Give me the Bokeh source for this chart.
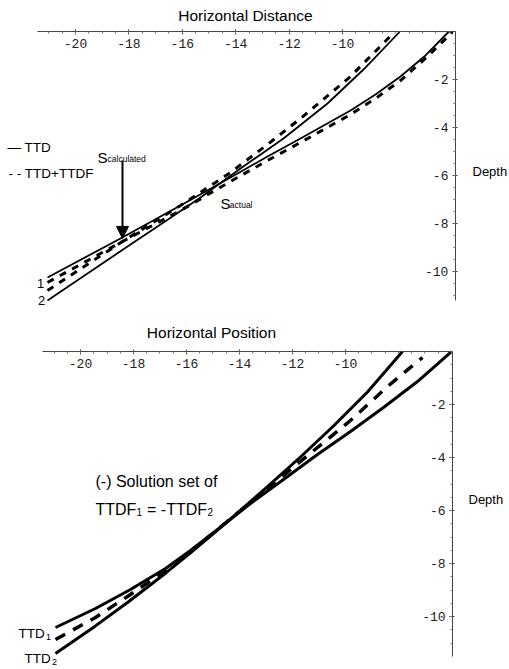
from bokeh.plotting import figure
from bokeh.models import LinearAxis, FixedTicker, Range1d, Arrow, NormalHead, CustomJSTickFormatter
from bokeh.layouts import column
from bokeh.embed import file_html
from bokeh.resources import INLINE
from bokeh.core.properties import value

# ---------------- data: top panel (Horizontal Distance) ----------------
ttd1_x = [-21.049, -18.315, -16.067, -14.195, -12.809, -11.573, -9.700, -8.764, -7.828, -6.891, -6.030]
ttd1_y = [-10.229, -8.604, -7.229, -6.063, -5.188, -4.438, -3.271, -2.604, -1.854, -0.979, 0.0]
ttd2_x = [-21.049, -17.940, -16.704, -15.318, -13.820, -12.210, -10.562, -9.213, -7.865]
ttd2_y = [-11.188, -8.854, -7.938, -6.896, -5.688, -4.438, -2.979, -1.563, 0.0]
ttdf1_x = [-21.049, -18.240, -16.067, -14.195, -12.809, -11.573, -9.700, -8.764, -7.828, -6.854, -5.880]
ttdf1_y = [-10.438, -8.729, -7.438, -6.229, -5.354, -4.604, -3.438, -2.771, -2.021, -1.0625, 0.0]
ttdf2_x = [-21.049, -18.240, -16.067, -14.195, -12.809, -11.573, -9.700, -8.052]
ttdf2_y = [-10.771, -8.729, -7.229, -5.854, -4.688, -3.604, -1.854, 0.0]

# ---------------- data: bottom panel (Horizontal Position) ----------------
pos1_x = [-20.943, -19.434, -18.113, -16.792, -15.849, -15.019, -13.585, -12.340, -11.057,
          -9.811, -8.566, -7.283, -6.000]
pos1_y = [-10.415, -9.698, -8.981, -8.189, -7.509, -6.868, -5.736, -4.830, -3.887,
          -3.019, -2.113, -1.132, 0.0]
pos2_x = [-20.943, -19.434, -18.189, -16.792, -15.849, -15.019, -14.226, -12.943, -11.698,
          -10.453, -9.170, -7.849]
pos2_y = [-11.396, -10.355, -9.445, -8.366, -7.596, -6.902, -6.223, -5.098, -3.981,
          -2.811, -1.528, 0.0]
posm_x = [-20.943, -19.434, -18.113, -16.792, -15.849, -15.019, -13.585, -12.340, -11.057,
          -9.811, -8.415, -7.094]
posm_y = [-10.868, -10.038, -9.170, -8.264, -7.547, -6.868, -5.698, -4.679, -3.623,
          -2.604, -1.321, -0.226]

# ---------------- ticks ----------------
x_ticks = [-20, -18, -16, -14, -12, -10]
x_minor = [v / 2 for v in range(-42, -11)]
y_ticks = [-10, -8, -6, -4, -2]
y_minor = [v / 2 for v in range(-22, 0)]

SANS = value("Liberation Sans")
MONO = "Liberation Mono"


def base_fig(xr, yr, h):
    p = figure(width=509, height=h, x_range=Range1d(*xr), y_range=Range1d(*yr),
               x_axis_type=None, y_axis_type=None, output_backend="svg",
               toolbar_location=None, min_border=0)
    p.grid.visible = False
    p.outline_line_color = None
    p.background_fill_color = "white"
    p.border_fill_color = "white"
    return p


def add_axes(p, xbounds, ybounds):
    fmt = CustomJSTickFormatter(code="return String(Math.round(tick));")
    xa = LinearAxis(fixed_location=0, bounds=xbounds,
                    ticker=FixedTicker(ticks=x_ticks, minor_ticks=x_minor), formatter=fmt)
    ya = LinearAxis(fixed_location=xbounds[1], bounds=ybounds,
                    ticker=FixedTicker(ticks=y_ticks, minor_ticks=y_minor), formatter=fmt)
    for a in (xa, ya):
        a.axis_line_color = "#444444"
        a.axis_line_width = 1
        a.major_tick_line_color = "#444444"
        a.minor_tick_line_color = "#777777"
        a.major_tick_in = 2
        a.major_tick_out = 3
        a.minor_tick_in = 0
        a.minor_tick_out = 2
        a.major_label_text_font = MONO
        a.major_label_text_font_size = "13px"
        a.major_label_text_color = "#222222"
        a.major_label_standoff = 4
    p.add_layout(xa, "below")
    p.add_layout(ya, "left")


# ================= TOP =================
top = base_fig((-22.809, -3.745), (-12.021, 1.3125), 320)
add_axes(top, (-21.42, -5.77), (-11.2, 0.0))

top.line(ttd1_x, ttd1_y, line_color="black", line_width=1.8)
top.line(ttd2_x, ttd2_y, line_color="black", line_width=1.8)
top.line(ttdf1_x, ttdf1_y, line_color="black", line_width=3, line_dash="7 7")
top.line(ttdf2_x, ttdf2_y, line_color="black", line_width=3, line_dash="7 7")

top.add_layout(Arrow(end=NormalHead(size=12, fill_color="black", line_color="black"),
                     x_start=-18.24, y_start=-5.354, x_end=-18.24, y_end=-8.60,
                     line_width=2, line_color="black"))

top.text(x=[-13.633], y=[0.6875], text=["Horizontal Distance"], text_font=SANS,
         text_font_size=value("15.5px"), text_align="center", text_baseline="middle")
top.text(x=[-22.547, -22.509], y=[-4.8125, -5.896], text=["\u2014 TTD", "- - TTD+TTDF"],
         text_font=SANS, text_font_size=value("13.5px"), text_align="left", text_baseline="middle")
top.text(x=[-19.176, -14.569], y=[-5.229, -7.146], text=["S", "S"], text_font=SANS,
         text_font_size=value("15px"), text_align="left", text_baseline="alphabetic")
top.text(x=[-18.80, -14.22], y=[-5.3125, -7.229], text=["calculated", "actual"], text_font=SANS,
         text_font_size=value("8.5px"), text_align="left", text_baseline="alphabetic")
top.text(x=[-21.311, -21.273], y=[-10.479, -11.188], text=["1", "2"], text_font=SANS,
         text_font_size=value("13px"), text_align="center", text_baseline="middle")
top.text(x=[-5.131], y=[-5.8125], text=["Depth"], text_font=SANS,
         text_font_size=value("13px"), text_align="left", text_baseline="middle")

# ================= BOTTOM =================
bot = base_fig((-23.019, -3.811), (-12.0, 1.170), 349)
add_axes(bot, (-21.43, -5.96), (-11.51, 0.0))

bot.line(pos1_x, pos1_y, line_color="black", line_width=3)
bot.line(pos2_x, pos2_y, line_color="black", line_width=3)
bot.line(posm_x, posm_y, line_color="black", line_width=3.5, line_dash="11 9")

bot.text(x=[-15.057], y=[0.717], text=["Horizontal Position"], text_font=SANS,
         text_font_size=value("15.5px"), text_align="center", text_baseline="middle")
bot.text(x=[-19.434], y=[-4.906], text=["(-) Solution set of"], text_font=SANS,
         text_font_size=value("16px"), text_align="left", text_baseline="middle")
bot.text(x=[-19.434, -17.490], y=[-5.962, -5.962], text=["TTDF", "= -TTDF"], text_font=SANS,
         text_font_size=value("16px"), text_align="left", text_baseline="alphabetic")
bot.text(x=[-17.887, -15.208], y=[-6.075, -6.075], text=["1", "2"], text_font=SANS,
         text_font_size=value("10px"), text_align="left", text_baseline="alphabetic")
bot.text(x=[-22.34, -22.113], y=[-10.642, -11.585], text=["TTD", "TTD"], text_font=SANS,
         text_font_size=value("13.5px"), text_align="left", text_baseline="alphabetic")
bot.text(x=[-21.302, -21.075], y=[-10.755, -11.70], text=["1", "2"], text_font=SANS,
         text_font_size=value("9px"), text_align="left", text_baseline="alphabetic")
bot.text(x=[-5.358], y=[-5.585], text=["Depth"], text_font=SANS,
         text_font_size=value("13px"), text_align="left", text_baseline="middle")

layout = column(top, bot, spacing=0)
open("out.html", "w").write(file_html(layout, INLINE))
